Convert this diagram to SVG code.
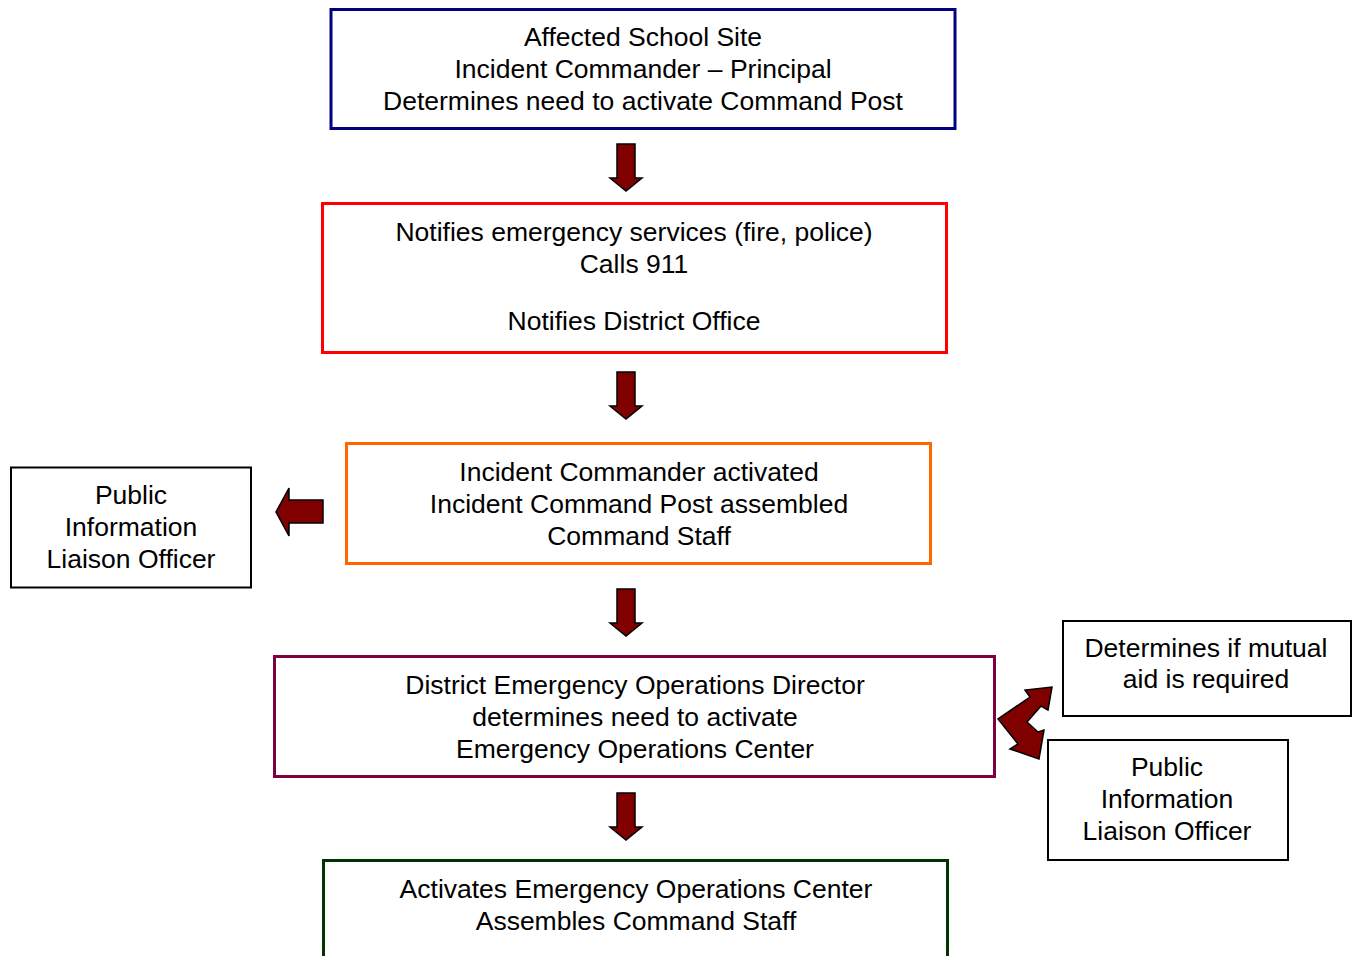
<svg xmlns="http://www.w3.org/2000/svg" width="1361" height="956" viewBox="0 0 1361 956">
<style>
.box{fill:#fff;stroke-width:3}
.plain{fill:#fff;stroke:#000;stroke-width:2}
text{font-family:"Liberation Sans",Arial,sans-serif;font-size:26.5px;fill:#000;text-anchor:middle}
.arr{fill:#800000;stroke:#000;stroke-width:1.5;stroke-linejoin:miter}
</style>
<defs>
<path id="down" d="M-9,0 H9 V34 H16 L0,47 L-16,34 H-9 Z"/>
</defs>
<rect width="1361" height="956" fill="#fff"/>
<g id="n1"><rect class="box" x="331" y="9.5" width="624" height="119" stroke="#000080"/>
<text x="643" y="46">Affected School Site</text><text x="643" y="78">Incident Commander – Principal</text><text x="643" y="110">Determines need to activate Command Post</text></g>
<g id="n2"><rect class="box" x="322.5" y="203.5" width="624" height="149" stroke="#ff0000"/>
<text x="634" y="241">Notifies emergency services (fire, police)</text><text x="634" y="273">Calls 911</text><text x="634" y="330">Notifies District Office</text></g>
<g id="n3"><rect class="box" x="346.5" y="443.5" width="584" height="120" stroke="#ff6600"/>
<text x="639" y="481">Incident Commander activated</text><text x="639" y="513">Incident Command Post assembled</text><text x="639" y="545">Command Staff</text></g>
<g id="n4"><rect class="plain" x="11" y="467.5" width="240" height="120"/>
<text x="131" y="504">Public</text><text x="131" y="536">Information</text><text x="131" y="568">Liaison Officer</text></g>
<g id="n5"><rect class="box" x="274.5" y="656.5" width="720" height="120" stroke="#7f0040"/>
<text x="635" y="694">District Emergency Operations Director</text><text x="635" y="726">determines need to activate</text><text x="635" y="758">Emergency Operations Center</text></g>
<g id="n6"><rect class="plain" x="1063" y="621" width="288" height="95"/>
<text x="1206" y="657">Determines if mutual</text><text x="1206" y="688">aid is required</text></g>
<g id="n7"><rect class="plain" x="1048" y="740" width="240" height="120"/>
<text x="1167" y="776">Public</text><text x="1167" y="808">Information</text><text x="1167" y="840">Liaison Officer</text></g>
<g id="n8"><rect class="box" x="323.5" y="860.5" width="624" height="100" stroke="#003300"/>
<text x="636" y="898">Activates Emergency Operations Center</text><text x="636" y="930">Assembles Command Staff</text></g>
<g id="connectors">
<use href="#down" class="arr" x="626" y="144"/>
<use href="#down" class="arr" x="626" y="372"/>
<use href="#down" class="arr" x="626" y="589"/>
<use href="#down" class="arr" x="626" y="793"/>
<path class="arr" d="M323,500 V523 H289 V536 L276,512 L289,488 V500 Z"/>
<path class="arr" d="M1052,687 L1048,710 L1041,706 L1027,722 L1038,732 L1044,730 L1039,759 L1010,749 L1018,744 L998,719 L1030,697 L1025,690 Z"/>
</g>
</svg>
